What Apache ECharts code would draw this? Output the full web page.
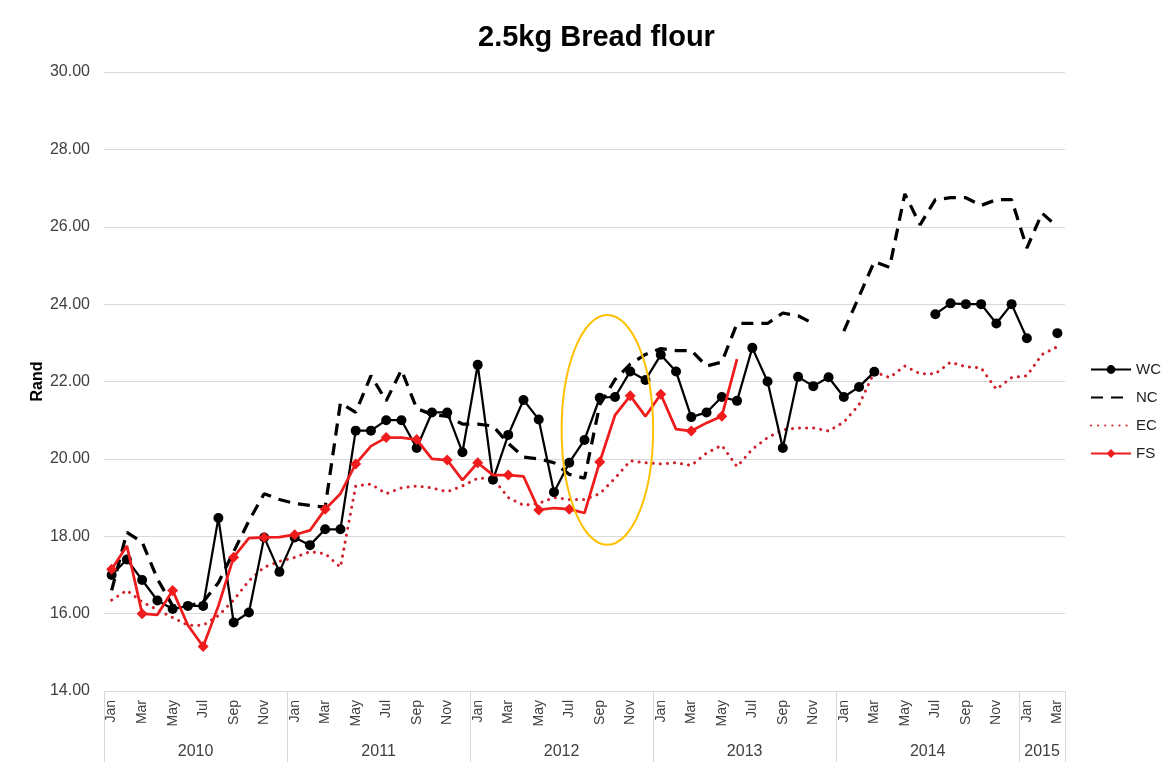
<!DOCTYPE html>
<html>
<head>
<meta charset="utf-8">
<script src="https://cdn.jsdelivr.net/npm/echarts@6/dist/echarts.min.js"></script>
<style>html,body{margin:0;padding:0;background:#fff;}#c{width:1168px;height:765px;}</style>
</head>
<body>
<div id="c"></div>
<script>
const monthNames = ['Jan','Feb','Mar','Apr','May','Jun','Jul','Aug','Sep','Oct','Nov','Dec'];
const years = ['2010','2011','2012','2013','2014','2015'];
const yTicks = { min: 14, max: 30, interval: 2 };

const WC = [17.0, 17.4, 16.87, 16.34, 16.12, 16.2, 16.2, 18.47, 15.77, 16.03, 17.97, 17.08,
  17.97, 17.77, 18.18, 18.18, 20.73, 20.73, 21.0, 21.0, 20.28, 21.2, 21.2, 20.17,
  22.43, 19.46, 20.62, 21.52, 21.02, 19.14, 19.9, 20.49, 21.58, 21.6, 22.26, 22.04,
  22.69, 22.26, 21.08, 21.2, 21.6, 21.5, 22.87, 22.0, 20.28, 22.12, 21.88, 22.11,
  21.6, 21.86, 22.25, null, null, null, 23.74, 24.02, 24.0, 24.0, 23.5, 24.0,
  23.12, null, 23.25];

const NC = [16.6, 18.1, 17.85, 16.9, 16.2, 16.2, 16.3, 16.8, 17.6, 18.4, 19.1, 18.95,
  18.85, 18.8, 18.75, 21.45, 21.2, 22.15, 21.5, 22.3, 21.3, 21.15, 21.1, 20.9,
  20.9, 20.85, 20.4, 20.05, 20.0, 19.9, 19.6, 19.5, 21.4, 22.05, 22.45, 22.7,
  22.85, 22.8, 22.8, 22.4, 22.5, 23.5, 23.5, 23.5, 23.77, 23.7, 23.5, null,
  23.3, 24.2, 25.1, 24.95, 26.85, 26.05, 26.7, 26.75, 26.75, 26.55, 26.7, 26.7,
  25.45, 26.35, 26.0];

const EC = [16.35, 16.6, 16.3, 16.1, 15.9, 15.7, 15.7, 15.95, 16.35, 16.85, 17.2, 17.35,
  17.45, 17.6, 17.55, 17.2, 19.3, 19.35, 19.1, 19.25, 19.3, 19.25, 19.15, 19.3,
  19.5, 19.5, 19.0, 18.8, 18.85, 19.0, 18.95, 18.95, 19.1, 19.5, 19.95, 19.9,
  19.87, 19.9, 19.83, 20.15, 20.35, 19.8, 20.25, 20.55, 20.75, 20.8, 20.8, 20.72,
  20.95, 21.4, 22.25, 22.1, 22.4, 22.2, 22.2, 22.5, 22.38, 22.35, 21.8, 22.1,
  22.15, 22.7, 22.9];

const FS = [17.15, 17.75, 16.0, 15.97, 16.6, 15.7, 15.15, 16.2, 17.46, 17.95, 17.97, 17.98,
  18.04, 18.15, 18.7, 19.1, 19.87, 20.33, 20.55, 20.55, 20.5, 20.0, 19.97, 19.45,
  19.9, 19.58, 19.58, 19.55, 18.68, 18.73, 18.7, 18.6, 19.92, 21.13, 21.63, 21.1,
  21.67, 20.77, 20.72, 20.93, 21.1, 22.58, null, null, null, null, null, null,
  null, null, null, null, null, null, null, null, null, null, null, null,
  null, null, null];

(function () {
const nMonths = WC.length;
const categories = [];
for (let i = 0; i < nMonths; i++) {
  categories.push(monthNames[i % 12] + ' ' + years[Math.floor(i / 12)]);
}
// half-month boundary points for the year axis
const yearAxisData = [];
for (let k = 0; k <= nMonths * 2; k++) {
  let label = '';
  const yi = Math.floor(k / 24);
  const startK = yi * 24;
  const endK = Math.min(startK + 24, nMonths * 2);
  if (k === Math.round((startK + endK) / 2) && yi < years.length) label = years[yi];
  yearAxisData.push(label);
}

const FONT = 'Liberation Sans, Arial, sans-serif';
const grey = '#d9d9d9';
const txt = '#404040';

const chart = echarts.init(document.getElementById('c'), null, { renderer: 'canvas' });
const option = {
  animation: false,
  backgroundColor: '#fff',
  textStyle: { fontFamily: FONT },
  title: {
    text: '2.5kg Bread flour', left: 478, top: 23, padding: 0,
    textStyle: { fontFamily: FONT, fontSize: 29, fontWeight: 'bold', color: '#000' }
  },
  legend: {
    orient: 'vertical', left: 1085, top: 357, itemWidth: 40, itemHeight: 11, itemGap: 13,
    textStyle: { fontFamily: FONT, fontSize: 15, color: '#222' },
    data: [
      { name: 'WC' },
      { name: 'NC', itemStyle: { opacity: 0 } },
      { name: 'EC', itemStyle: { opacity: 0 } },
      { name: 'FS' }
    ]
  },
  grid: { left: 104, right: 103, top: 72, bottom: 74, containLabel: false },
  xAxis: [{
    type: 'category', data: categories, boundaryGap: true,
    axisLine: { show: true, lineStyle: { color: grey, width: 1 } },
    axisTick: { show: false },
    axisLabel: {
      interval: 1, rotate: 90, margin: 9, fontSize: 14, color: txt, fontFamily: FONT,
      formatter: v => v.split(' ')[0]
    }
  }, {
    type: 'category', data: yearAxisData, boundaryGap: false, position: 'bottom',
    axisLine: { show: false },
    axisTick: {
      show: true, length: 71, lineStyle: { color: grey, width: 1 },
      interval: (i) => (i % 24 === 0) || i === nMonths * 2
    },
    axisLabel: { interval: 0, margin: 53, fontSize: 16, color: txt, fontFamily: FONT }
  }],
  yAxis: {
    type: 'value', min: yTicks.min, max: yTicks.max, interval: yTicks.interval,
    name: 'Rand', nameLocation: 'middle', nameGap: 58, nameRotate: 90, nameMoveOverlap: false,
    nameTextStyle: { fontFamily: FONT, fontSize: 16, fontWeight: 'bold', color: '#000' },
    axisLine: { show: false }, axisTick: { show: false },
    axisLabel: { margin: 14, fontSize: 16, color: txt, fontFamily: FONT, formatter: v => v.toFixed(2) },
    splitLine: { lineStyle: { color: grey, width: 1 } }
  },
  series: [
    {
      name: 'WC', type: 'line', data: WC, connectNulls: false,
      symbol: 'circle', symbolSize: 10, showSymbol: true,
      lineStyle: { color: '#000', width: 2.25 }, itemStyle: { color: '#000' }, z: 4
    },
    {
      name: 'NC', type: 'line', data: NC, connectNulls: false, symbol: 'none',
      lineStyle: { color: '#000', width: 3.25, type: [12, 8] }, itemStyle: { color: '#000' }, z: 3
    },
    {
      name: 'EC', type: 'line', data: EC, connectNulls: false, symbol: 'none',
      lineStyle: { color: '#d0202a', width: 3, type: [0.1, 7], cap: 'round' }, itemStyle: { color: '#d0202a' }, z: 2
    },
    {
      name: 'FS', type: 'line', data: FS, connectNulls: false,
      symbol: 'diamond', symbolSize: 11, showSymbol: true,
      lineStyle: { color: '#ee1c1c', width: 2.75 }, itemStyle: { color: '#ee1c1c' }, z: 5
    }
  ]
};
chart.setOption(option);

// annotation ellipse around Sep-Oct 2012, positioned via the chart's own scales
const pL = chart.convertToPixel({ gridIndex: 0 }, [29, 23.72]);
const pL2 = chart.convertToPixel({ gridIndex: 0 }, [30, 17.78]);
const pR = chart.convertToPixel({ gridIndex: 0 }, [35, 23.72]);
const pR2 = chart.convertToPixel({ gridIndex: 0 }, [36, 17.78]);
const eLeft = (pL[0] + pL2[0]) / 2, eRight = (pR[0] + pR2[0]) / 2;
const eTop = pL[1], eBottom = pL2[1];
chart.setOption({
  graphic: [{
    type: 'ellipse', z: 10, silent: true,
    shape: { cx: (eLeft + eRight) / 2, cy: (eTop + eBottom) / 2, rx: (eRight - eLeft) / 2, ry: (eBottom - eTop) / 2 },
    style: { fill: 'none', stroke: '#ffc000', lineWidth: 2 }
  }]
});
})();
</script>
</body>
</html>
